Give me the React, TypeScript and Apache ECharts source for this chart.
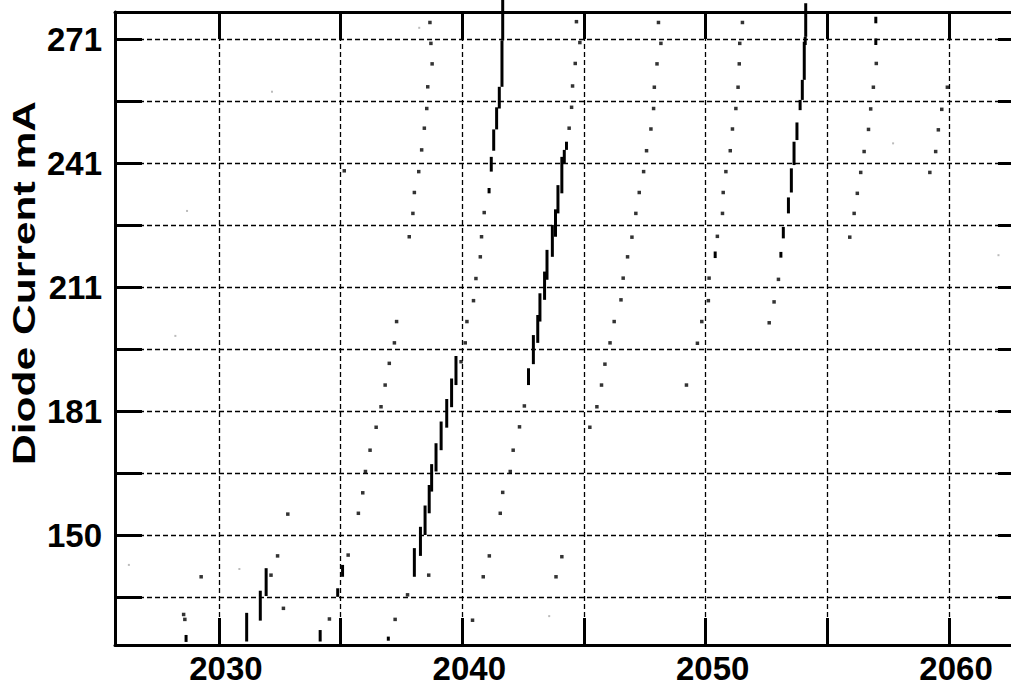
import React, { useEffect, useRef } from 'react';
import * as echarts from 'echarts';

// ---- axes ----
const xTicks = [2030, 2035, 2040, 2045, 2050, 2055, 2060];
const xLabels = [2030, 2040, 2050, 2060];
const yTicks = [135.175, 150.3, 165.425, 180.55, 195.675, 210.8, 225.925, 241.05, 256.175, 271.3];
const yLabelValues = [150.3, 180.55, 210.8, 241.05, 271.3];
const yLabelTexts = ['150', '181', '211', '241', '271'];
const xRange = [2025.73, 2063.12];
const yRange = [123.45, 277.96];
const yTitle = 'Diode Current mA';

// ---- vertical dashes [x, yLow, yHigh] ----
const dashesLowCluster = [
  [2028.65, 124.2, 125.9],
  [2031.14, 124.3, 131.3],
  [2031.7, 129.4, 136.7],
  [2031.94, 135.4, 142.2],
  [2034.16, 124.3, 127.1],
  [2034.88, 135.2, 137.3],
  [2035.08, 140.1, 143.0],
  [2036.96, 124.5, 125.5],
];
const dashesRampA = [
  [2038.03, 140.1, 147.1],
  [2038.28, 145.2, 152.3],
  [2038.47, 150.3, 157.5],
  [2038.64, 155.6, 162.5],
  [2038.74, 160.9, 167.6],
  [2038.92, 165.8, 172.7],
  [2039.13, 171.0, 178.0],
  [2039.36, 176.5, 183.5],
  [2039.56, 181.5, 188.5],
  [2039.74, 186.9, 194.0],
];
const dashesRampB = [
  [2041.1, 233.7, 235.0],
  [2041.19, 239.0, 242.6],
  [2041.29, 244.1, 249.3],
  [2041.41, 249.3, 254.7],
  [2041.52, 254.4, 259.7],
  [2041.63, 259.7, 271.0],
  [2041.66, 271.0, 280.9],
];
const dashesRampC = [
  [2042.72, 186.9, 191.0],
  [2042.92, 192.0, 199.1],
  [2043.1, 197.2, 204.0],
  [2043.19, 202.4, 209.3],
  [2043.38, 207.7, 214.6],
  [2043.48, 212.6, 219.9],
  [2043.7, 218.2, 226.0],
  [2043.83, 223.1, 229.8],
  [2043.93, 228.8, 235.7],
  [2044.09, 233.7, 242.6],
  [2044.19, 241.0, 244.3],
  [2044.28, 244.3, 246.3],
];
const dashesRampD = [
  [2053.09, 218.0, 219.4],
  [2053.19, 222.7, 225.5],
  [2053.4, 228.8, 232.7],
  [2053.52, 233.9, 239.8],
  [2053.63, 240.6, 246.3],
  [2053.75, 246.7, 251.0],
  [2053.88, 254.0, 256.5],
  [2053.97, 256.5, 261.4],
  [2054.05, 261.4, 270.7],
  [2054.09, 269.9, 271.9],
  [2054.11, 271.9, 280.1],
];
const dashesOther = [
  [2056.99, 275.2, 276.8],
  [2056.99, 269.9, 271.5],
  [2050.39, 217.9, 219.5],
];

// ---- dots [x, y] ----
const dotsLow = [
  [2028.6, 129.7], [2028.55, 130.9], [2029.27, 140.1], [2032.14, 140.5], [2032.41, 145.2],
  [2032.65, 132.4], [2032.83, 155.4], [2034.54, 129.8], [2035.31, 145.4], [2037.24, 129.7],
  [2037.75, 135.7], [2038.62, 140.5], [2043.85, 140.1], [2044.09, 145.0], [2035.15, 239.2],
];
const dotsDiagA = [
  [2035.73, 155.6], [2035.91, 160.6], [2036.02, 165.8], [2036.21, 171.0], [2036.46, 176.6],
  [2036.66, 181.6], [2036.83, 186.9], [2037.0, 192.2], [2037.21, 197.2], [2037.3, 202.4],
  [2037.82, 223.1], [2037.97, 228.8], [2038.03, 233.9], [2038.21, 239.0], [2038.33, 244.3],
  [2038.44, 249.6], [2038.54, 254.4], [2038.58, 259.7], [2038.76, 265.3], [2038.71, 270.3],
  [2038.67, 275.4],
];
const dotsChainB = [
  [2039.95, 192.6], [2040.12, 197.2], [2040.19, 202.4], [2040.46, 207.5], [2040.56, 212.9],
  [2040.74, 218.2], [2040.79, 223.1], [2040.9, 229.0],
  [2040.42, 129.5], [2040.86, 140.1], [2041.11, 145.2], [2041.56, 155.6], [2041.66, 160.7],
  [2041.97, 165.8], [2042.09, 171.0], [2042.35, 176.7], [2042.55, 181.8],
];
const dotsChainC = [
  [2044.39, 249.6], [2044.49, 254.7], [2044.53, 259.9], [2044.64, 265.4], [2044.83, 270.5],
  [2044.69, 275.6],
];
const dotsDiagE = [
  [2045.24, 176.6], [2045.53, 181.6], [2045.72, 186.9], [2045.86, 192.0], [2046.07, 197.2],
  [2046.24, 202.4], [2046.52, 207.7], [2046.61, 213.0], [2046.79, 218.2], [2046.97, 223.0],
  [2047.13, 228.8], [2047.27, 233.9], [2047.45, 239.0], [2047.57, 244.1], [2047.75, 249.4],
  [2047.86, 254.4], [2047.89, 259.6], [2048.0, 265.3], [2048.16, 270.3], [2048.06, 275.4],
];
const dotsDiagF = [
  [2049.21, 186.9], [2049.66, 197.1], [2049.84, 202.4], [2050.11, 207.5], [2050.14, 213.0],
  [2050.48, 223.2], [2050.69, 228.8], [2050.72, 233.9], [2050.83, 239.0], [2051.01, 244.1],
  [2051.1, 249.4], [2051.24, 254.4], [2051.33, 259.6], [2051.38, 265.3], [2051.4, 270.3],
  [2051.51, 275.4], [2052.99, 212.7], [2052.81, 207.2], [2052.61, 202.1],
];
const dotsDiagG = [
  [2055.92, 223.0], [2056.1, 228.8], [2056.23, 233.7], [2056.37, 238.8], [2056.51, 243.9],
  [2056.69, 249.3], [2056.78, 254.3], [2056.89, 259.6], [2057.01, 265.4],
  [2059.21, 238.8], [2059.45, 243.9], [2059.56, 249.2], [2059.7, 254.2], [2059.93, 259.6],
];
const faintDots = [
  [2032.18, 258.5], [2028.69, 229.4], [2028.21, 198.9], [2057.7, 245.9], [2062.03, 218.6],
  [2038.23, 274.1], [2030.84, 142.0], [2026.3, 143.0], [2043.57, 130.5],
];

const FONT = '"Liberation Sans", Arial, Helvetica, sans-serif';

export default function App() {
  const ref = useRef<HTMLDivElement>(null);
  useEffect(() => {
    document.body.style.margin = '0';
    document.body.style.overflow = 'hidden';
    if (!ref.current) return;
    const chart = echarts.init(ref.current, null, { renderer: 'svg' });
    const dashes = [
      ...dashesLowCluster, ...dashesRampA, ...dashesRampB, ...dashesRampC, ...dashesRampD, ...dashesOther,
    ];
    const dots = [...dotsLow, ...dotsDiagA, ...dotsChainB, ...dotsChainC, ...dotsDiagE, ...dotsDiagF, ...dotsDiagG];
    const axisLineStyle = { color: '#000', width: 3 };
    const gridLine = { show: true, lineStyle: { color: '#000', width: 1.3, type: [5, 3] as any } };
    const labelStyle = { color: '#000', fontSize: 33, fontWeight: 'bold' as const, fontFamily: FONT };
    chart.setOption({
      animation: false,
      backgroundColor: '#fff',
      grid: { left: 115, right: 5, top: 12, bottom: 42, containLabel: false, outerBoundsMode: 'none' },
      xAxis: [
        {
          type: 'value', position: 'bottom', min: xRange[0], max: xRange[1],
          axisLine: { show: true, onZero: false, lineStyle: axisLineStyle },
          axisTick: { show: true, inside: true, length: 27, lineStyle: axisLineStyle, customValues: xTicks },
          axisLabel: {
            show: true, customValues: xLabels, margin: 7, padding: [0, 0, 0, 14], ...labelStyle,
            formatter: (v: number) => String(Math.round(v)),
          },
          splitLine: gridLine,
        },
        {
          type: 'value', position: 'top', min: xRange[0], max: xRange[1],
          axisLine: { show: true, onZero: false, lineStyle: axisLineStyle },
          axisTick: { show: true, inside: true, length: 27, lineStyle: axisLineStyle, customValues: xTicks },
          axisLabel: { show: false },
          splitLine: { show: false },
        },
      ],
      yAxis: [
        {
          type: 'value', position: 'left', min: yRange[0], max: yRange[1],
          axisLine: { show: true, onZero: false, lineStyle: axisLineStyle },
          axisTick: { show: true, inside: true, length: 27, lineStyle: axisLineStyle, customValues: yTicks },
          axisLabel: {
            show: true, customValues: yLabelValues, margin: 13, ...labelStyle,
            formatter: (v: number) => {
              const i = yLabelValues.findIndex((u) => Math.abs(u - v) < 0.01);
              return i >= 0 ? yLabelTexts[i] : '';
            },
          },
          splitLine: gridLine,
        },
        {
          type: 'value', position: 'right', min: yRange[0], max: yRange[1],
          axisLine: { show: true, onZero: false, lineStyle: axisLineStyle },
          axisTick: { show: true, inside: true, length: 27, lineStyle: axisLineStyle, customValues: yTicks },
          axisLabel: { show: false },
          splitLine: { show: false },
        },
      ],
      graphic: [
        {
          type: 'text',
          x: 24,
          y: 283,
          rotation: Math.PI / 2,
          scaleX: 1.33,
          style: {
            text: yTitle, fontSize: 32, fontWeight: 'bold', fontFamily: FONT, fill: '#000',
            align: 'center', verticalAlign: 'middle',
          },
        },
      ],
      series: [
        {
          type: 'custom',
          name: 'dashes',
          xAxisIndex: 0,
          yAxisIndex: 0,
          clip: false,
          silent: true,
          encode: { x: 0, y: [1, 2] },
          data: dashes,
          renderItem: (params: any, api: any) => {
            const p1 = api.coord([api.value(0), api.value(1)]);
            const p2 = api.coord([api.value(0), api.value(2)]);
            return {
              type: 'line',
              shape: { x1: p1[0], y1: p1[1], x2: p2[0], y2: p2[1] },
              style: { stroke: '#000', lineWidth: 3 },
            };
          },
        },
        {
          type: 'scatter',
          name: 'dots',
          xAxisIndex: 0,
          yAxisIndex: 0,
          silent: true,
          symbol: 'rect',
          symbolSize: 3.5,
          itemStyle: { color: '#000' },
          data: dots,
        },
        {
          type: 'scatter',
          name: 'faint',
          xAxisIndex: 0,
          yAxisIndex: 0,
          silent: true,
          symbol: 'rect',
          symbolSize: 2,
          itemStyle: { color: '#aaa' },
          data: faintDots,
        },
      ],
    });
    return () => chart.dispose();
  }, []);
  return (
    <div style={{ width: 1011, height: 687, overflow: 'hidden', position: 'relative' }}>
      <div ref={ref} style={{ width: 1030, height: 687 }} />
    </div>
  );
}
